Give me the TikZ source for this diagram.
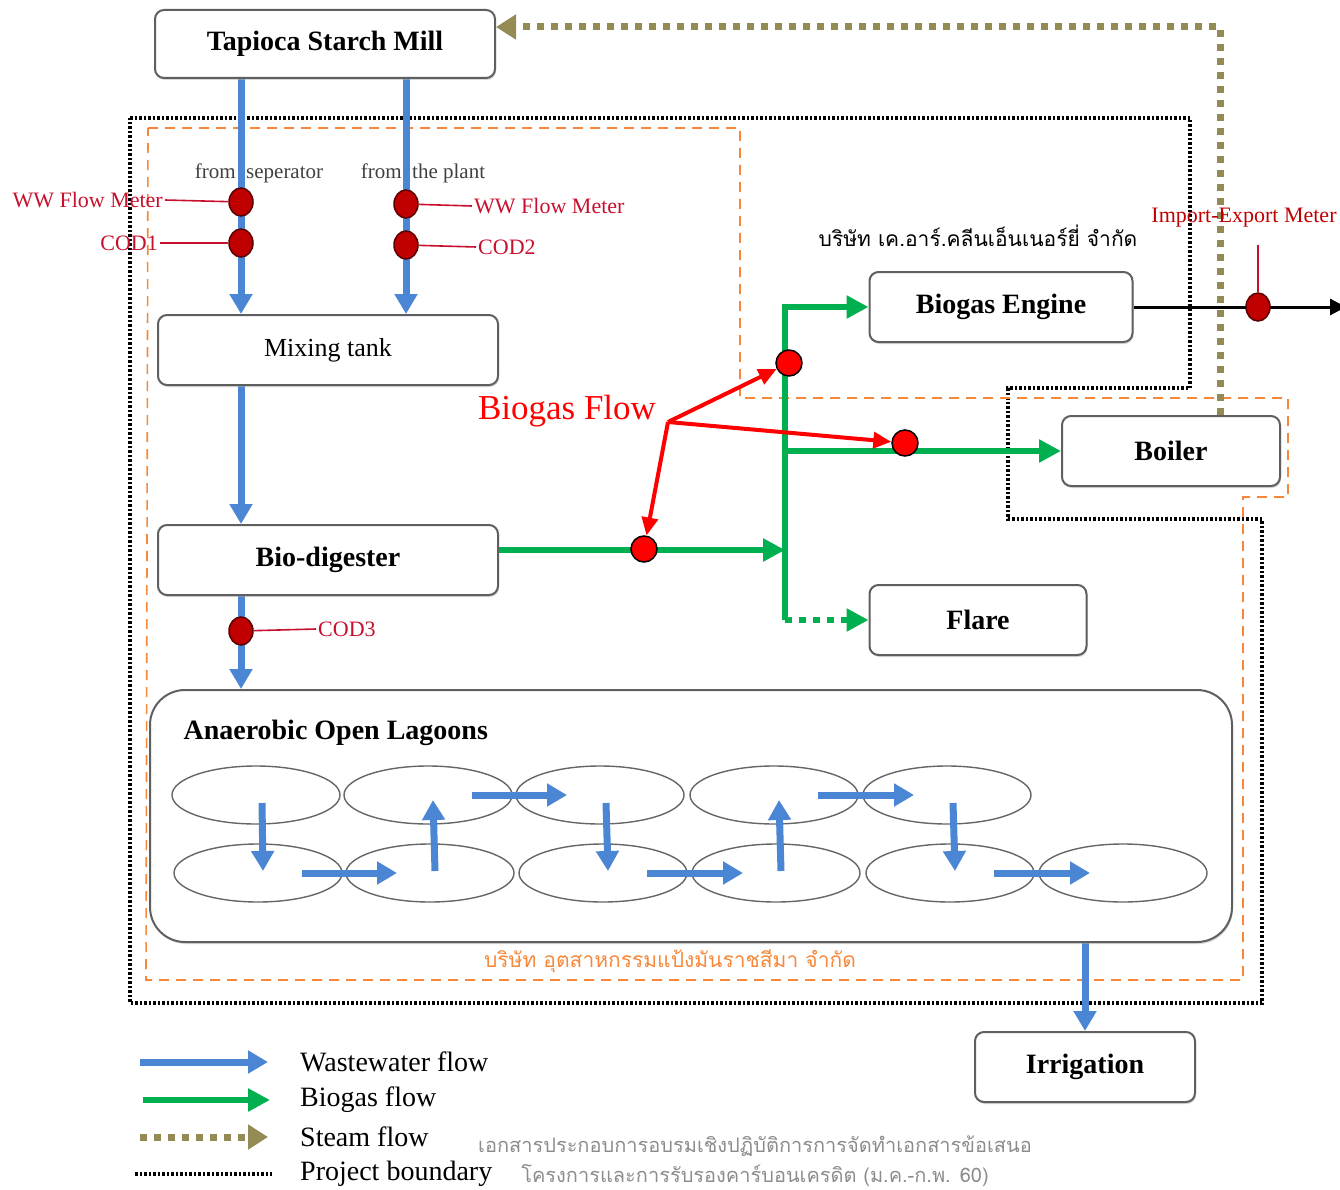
\documentclass[tikz,border=0pt]{standalone}
\usepackage{fontspec}
\setmainfont{Liberation Serif}
\newfontfamily\thaifont[Script=Thai]{Loma}
\usepackage{tikz}
\usetikzlibrary{positioning, arrows.meta, calc, backgrounds, shapes.geometric, shadows}
\definecolor{wwBlue}{HTML}{4A86D4}
\definecolor{gasGreen}{HTML}{00B050}
\definecolor{steamOlive}{HTML}{948A54}
\definecolor{bndOrange}{HTML}{F7883A}
\definecolor{mtrRed}{HTML}{C00000}
\definecolor{mtrRedB}{HTML}{5A0000}
\definecolor{lblRed}{HTML}{C8102E}
\definecolor{boxGray}{HTML}{5F5F5F}
\definecolor{noteGray}{HTML}{8C8C8C}
\newcommand{\pxfont}[1]{\fontsize{#1}{#1}\selectfont}

\begin{document}
\begin{tikzpicture}[x=1pt, y=-1pt,
box/.style={draw=boxGray, line width=2pt, rounded corners=9pt, fill=white, minimum height=70pt, inner sep=0pt, font=\pxfont{28}\bfseries, drop shadow={shadow xshift=1pt, shadow yshift=-2pt, fill=black!30}},
ww/.style={draw=wwBlue, line width=7pt, -{Triangle[length=20pt, width=22pt]}},
gas/.style={draw=gasGreen, line width=6pt, -{Triangle[length=22pt, width=22pt]}},
steam/.style={draw=steamOlive, line width=7pt, dash pattern=on 7pt off 7pt, -{Triangle[length=20pt, width=24pt]}},
bnd/.style={draw=black, line width=3.5pt, dash pattern=on 2.5pt off 2pt},
orng/.style={draw=bndOrange, line width=1.6pt, dash pattern=on 10pt off 7pt},
mtr/.style={ellipse, draw=mtrRedB, fill=mtrRed, line width=1.5pt, minimum width=24pt, minimum height=28pt, inner sep=0pt},
gmtr/.style={circle, draw=black, fill=red, line width=1.5pt, minimum size=26pt, inner sep=0pt},
mlbl/.style={font=\pxfont{22}, text=lblRed, inner sep=2pt},
redln/.style={draw=lblRed, line width=1.6pt},
redarr/.style={draw=red, line width=4pt, -{Triangle[length=18pt, width=16pt]}},
elec/.style={draw=black, line width=3pt, -{Triangle[length=16pt, width=16pt]}},
lake/.style={ellipse, draw=black!60, line width=1.4pt, minimum width=168pt, minimum height=58pt, inner sep=0pt},
legtxt/.style={anchor=west, font=\pxfont{28}, inner sep=0pt}]
\useasboundingbox (0,0) rectangle (1340,1190);
\node[box, minimum width=340pt, minimum height=68pt] (mill) at (325,44) {Tapioca Starch Mill};
\node[box, minimum width=340pt, font=\pxfont{26}] (mix) at (328,350) {Mixing tank};
\node[box, minimum width=340pt] (dig) at (328,560) {Bio-digester};
\node[box, minimum width=263pt] (eng) at (1001,307) {Biogas Engine};
\node[box, minimum width=218pt] (boil) at (1171,451) {Boiler};
\node[box, minimum width=217pt] (flare) at (978,620) {Flare};
\node[box, minimum width=220pt] (irr) at (1085,1067) {Irrigation};
\node[box, minimum width=1082pt, minimum height=252pt, rounded corners=35pt] (lag) at (691,816) {};
\node[anchor=west, font=\pxfont{28}\bfseries] (lagt) at (180,733) {Anaerobic Open Lagoons};
\foreach \n/\x in {1/256,2/428,3/600,4/774,5/947} \node[lake] (t\n) at (\x,795) {};
\foreach \n/\x in {1/258,2/430,3/603,4/776,5/950,6/1123} \node[lake] (b\n) at (\x,873) {};
\foreach \a/\b in {t1/b1,t3/b3,t5/b5} \draw[ww] ([shift={(6,8)}]\a.center) -- ([shift={(5,-2)}]\b.center);
\foreach \a/\b in {b2/t2,b4/t4} \draw[ww] ([shift={(5,-2)}]\a.center) -- ([shift={(5,5)}]\b.center);
\foreach \a/\b in {b1/b2,t2/t3,b3/b4,t4/t5,b5/b6} \draw[ww] ([shift={(44,0)}]\a.center) -- ([shift={(-33,0)}]\b.center);
\node[font=\pxfont{21}, text=black!75] (fsep) at (259,173) {from\enspace seperator};
\node[font=\pxfont{21}, text=black!75] (fpl) at (423,173) {from\enspace the plant};
\node[mtr] (wwA) at (241,202) {};
\node[mtr] (codA) at (241,243) {};
\node[mtr] (wwB) at (406,204) {};
\node[mtr] (codB) at (406,245) {};
\node[mtr] (codC) at (241,631) {};
\node[mlbl, anchor=east] (lwwA) at (165,200) {WW Flow Meter};
\node[mlbl, anchor=east] (lcodA) at (160,243) {COD1};
\node[mlbl, anchor=west] (lwwB) at (472,206) {WW Flow Meter};
\node[mlbl, anchor=west] (lcodB) at (476,247) {COD2};
\node[mlbl, anchor=west] (lcodC) at (316,629) {COD3};
\coordinate (jbot) at (785,620);
\node[gmtr] (gmA) at (644,549) {};
\node[gmtr] (gmB) at (789,363) {};
\node[gmtr] (gmC) at (905,443) {};
\node[font=\pxfont{35}, text=red] (bgf) at (567,411) {Biogas Flow};
\coordinate (hub) at (668,422);
\node[mtr] (iem) at (1258,307) {};
\node[mlbl, text=mtrRed] (liem) at (1244,218) {Import-Export Meter};
\coordinate (grid) at (1346,307);
\node[font=\thaifont\pxfont{21}] (krce) at (978,236) {บริษัท เค.อาร์.คลีนเอ็นเนอร์ยี่ จำกัด};
\node[font=\thaifont\pxfont{21}, text=bndOrange] (kstar) at (670,961) {บริษัท อุตสาหกรรมแป้งมันราชสีมา จำกัด};
\node[font=\thaifont\pxfont{20}, text=noteGray] (note1) at (755,1146) {เอกสารประกอบการอบรมเชิงปฏิบัติการการจัดทำเอกสารข้อเสนอ};
\node[font=\thaifont\pxfont{20}, text=noteGray] (note2) at (755,1176) {โครงการและการรับรองคาร์บอนเครดิต (ม.ค.-ก.พ. 60)};
\node[legtxt] (lgw) at (300,1062) {Wastewater flow};
\node[legtxt] (lgb) at (300,1100) {Biogas flow};
\node[legtxt] (lgs) at (300,1137) {Steam flow};
\node[legtxt] (lgp) at (300,1174) {Project boundary};
\draw[ww] ([xshift=-160pt]lgw.west) -- ([xshift=-32pt]lgw.west);
\draw[gas] ([xshift=-157pt]lgb.west) -- ([xshift=-30pt]lgb.west);
\draw[steam] ([xshift=-160pt]lgs.west) -- ([xshift=-32pt]lgs.west);
\draw[bnd] ([xshift=-165pt]lgp.west) -- ([xshift=-28pt]lgp.west);
\begin{scope}[on background layer]
\draw[bnd] (130,118) -- (1190,118) -- (1190,388) -- (1008,388) -- (1008,519) -- (1262,519) -- (1262,1003) -- (130,1003) -- cycle;
\draw[orng] (148,128) -- (740,128) -- (740,398) -- (1288,398) -- (1288,497) -- (1243,497) -- (1243,980) -- (146,980) -- cycle;
\draw[steam] ([xshift=49pt]boil.north) |- ([yshift=17pt]mill.east);
\draw[ww] (mill.south -| wwA) -- (mix.north -| wwA);
\draw[ww] (mill.south -| wwB) -- (mix.north -| wwB);
\draw[ww] (mix.south -| wwA) -- (dig.north -| wwA);
\draw[ww] (dig.south -| codC) -- (lag.north -| codC);
\draw[ww] (lag.south -| irr) -- (irr.north);
\draw[redln] (lwwA.east) -- (wwA);
\draw[redln] (lcodA.east) -- (codA);
\draw[redln] (lwwB.west) -- (wwB);
\draw[redln] (lcodB.west) -- (codB);
\draw[redln] (lcodC.west) -- (codC);
\draw[gas] (jbot) |- (eng.west);
\draw[gas] ([yshift=10pt]dig.east) -- ([yshift=10pt]dig.east -| jbot);
\draw[gas] (boil.west -| jbot) -- (boil.west);
\draw[gas, dash pattern=on 7pt off 7pt] (jbot) -- (flare.west);
\draw[elec] (eng.east) -- (grid);
\draw[redln] (iem) -- ++(0,-62);
\end{scope}
\draw[redarr] (hub) -- (gmA);
\draw[redarr] (hub) -- (gmB);
\draw[redarr] (hub) -- (gmC);
\end{tikzpicture}
\end{document}
